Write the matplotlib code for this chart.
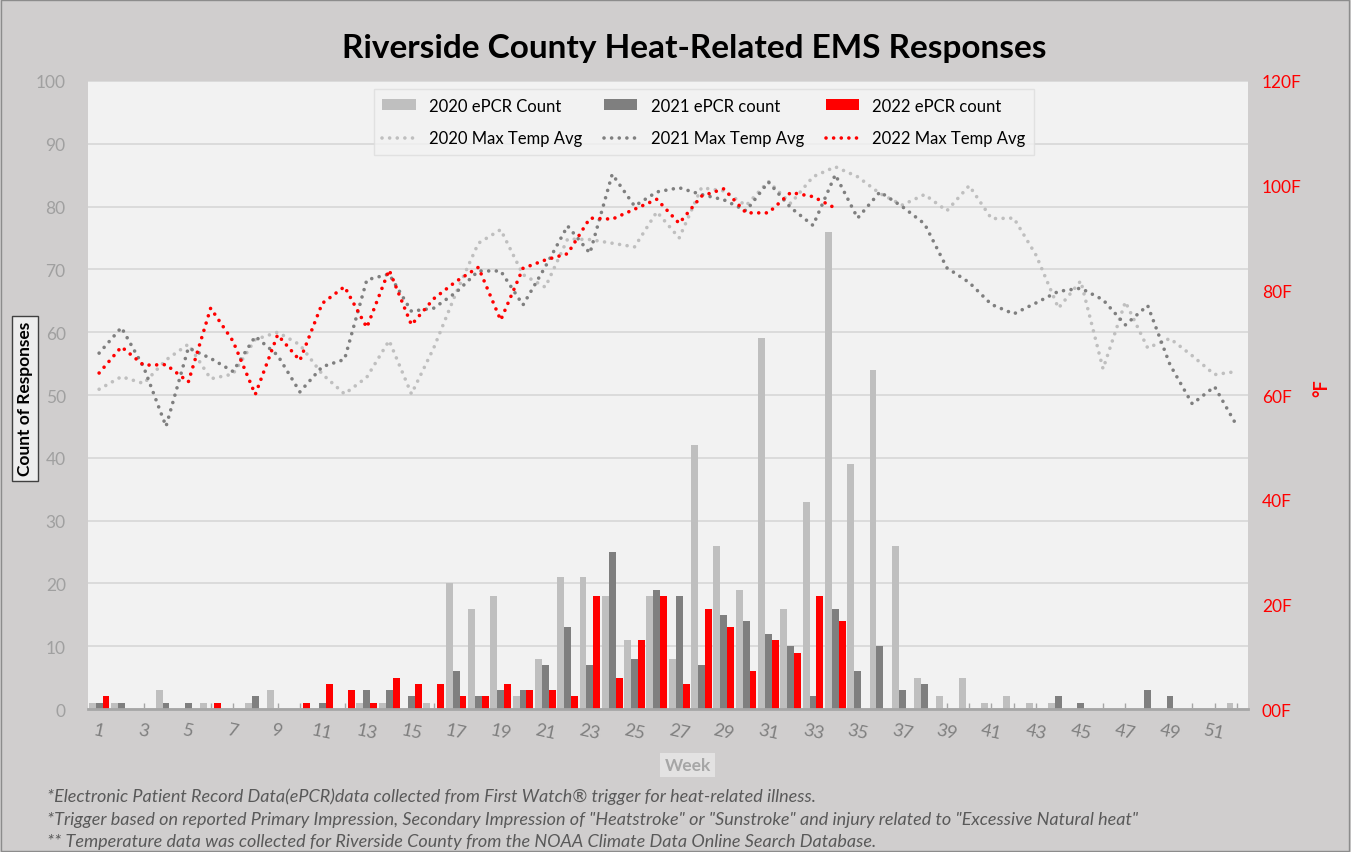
import matplotlib

matplotlib.use("Agg")
import matplotlib.pyplot as plt
import numpy as np
from matplotlib.patches import Rectangle

plt.rcParams["font.family"] = ["Lato", "DejaVu Sans"]

weeks = np.arange(1, 53)
tick_labels = [str(w) if w % 2 else "" for w in weeks]

# weekly ePCR counts
count_2020 = [1, 1, 0, 3, 0, 1, 0, 1, 3, 0, 0, 0, 1, 1, 0, 1, 20, 16, 18, 2,
              8, 21, 21, 18, 11, 18, 8, 42, 26, 19, 59, 16, 33, 76, 39, 54, 26, 5, 2, 5,
              1, 2, 1, 1, 0, 0, 0, 0, 0, 0, 0, 1]
count_2021 = [1, 1, 0, 1, 1, 0, 0, 2, 0, 0, 1, 0, 3, 3, 2, 0, 6, 2, 3, 3,
              7, 13, 7, 25, 8, 19, 18, 7, 15, 14, 12, 10, 2, 16, 6, 10, 3, 4, 0, 0,
              0, 0, 0, 2, 1, 0, 0, 3, 2, 0, 0, 0]
count_2022 = [2, 0, 0, 0, 0, 1, 0, 0, 0, 1, 4, 3, 1, 5, 4, 4, 2, 2, 4, 3,
              3, 2, 18, 5, 11, 18, 4, 16, 13, 6, 11, 9, 18, 14]
count_2022 = count_2022 + [0] * (52 - len(count_2022))

# weekly max temperature averages (deg F)
temp_2020 = [61.1, 63.5, 62.2, 66.7, 69.7, 63.1, 64.0, 70.6, 72.0, 69.6,
             64.0, 60.2, 63.4, 70.4, 60.2, 69.0, 79.5, 89.0, 91.6, 83.0,
             80.6, 89.8, 89.7, 89.0, 88.3, 95.0, 90.0, 99.6, 99.0, 96.2,
             100.8, 96.6, 101.7, 103.6, 101.7, 98.5, 96.3, 98.3, 95.2, 100.0,
             93.7, 93.8, 86.7, 76.6, 81.8, 65.0, 77.8, 69.0, 70.8, 67.5,
             63.9, 64.5]
temp_2021 = [68.0, 72.9, 65.3, 54.0, 69.0, 67.0, 64.5, 71.2, 67.6, 60.6,
             65.4, 66.8, 82.0, 83.1, 76.0, 76.6, 79.6, 83.7, 83.7, 77.2,
             84.5, 92.3, 87.1, 102.2, 96.1, 98.8, 99.6, 98.3, 97.3, 95.2,
             100.7, 95.8, 92.4, 102.1, 93.8, 98.8, 96.0, 92.7, 84.3, 81.5,
             77.3, 75.5, 77.6, 79.8, 80.4, 78.2, 73.4, 77.1, 65.8, 58.3,
             61.6, 54.1]
temp_2022 = [64.2, 69.2, 65.7, 65.8, 62.5, 76.6, 70.3, 60.1, 71.5, 66.6,
             77.5, 80.7, 72.9, 83.9, 73.4, 78.4, 81.7, 84.4, 74.3, 84.2,
             85.8, 87.0, 93.8, 93.6, 95.5, 97.4, 92.8, 98.0, 99.4, 94.8,
             94.8, 98.7, 97.9, 95.7]

OUTER = "#D0CECE"
PLOT_BG = "#F2F2F2"
C20, C21, C22 = "#BFBFBF", "#7F7F7F", "#FF0000"

fig = plt.figure(figsize=(13.51, 8.53), dpi=100, facecolor=OUTER)
ax = fig.add_axes([0.0651, 0.1676, 0.8587, 0.7363])
ax.set_facecolor(PLOT_BG)

w = 0.31
ax.bar(weeks - w, count_2020, w, color=C20, label="2020 ePCR Count", zorder=2)
ax.bar(weeks, count_2021, w, color=C21, label="2021 ePCR count", zorder=2)
ax.bar(weeks + w, count_2022, w, color=C22, label="2022 ePCR count", zorder=2)

ax.set_xlim(0.5, 52.5)
ax.set_ylim(0, 100)
ax.set_yticks(range(0, 101, 10))
ax.grid(axis="y", color="#D9D9D9", lw=1.3, zorder=0)
ax.set_axisbelow(True)
ax.set_xticks(weeks)
ax.set_xticklabels(tick_labels, rotation=-12)
ax.tick_params(axis="x", direction="in", length=4, width=1, color="#A6A6A6",
               labelsize=13, labelcolor="#7F7F7F", pad=9)
ax.tick_params(axis="y", length=0, labelsize=12.5, labelcolor="#A0A0A0", pad=16)
for side in ("top", "left", "right"):
    ax.spines[side].set_visible(False)
ax.spines["bottom"].set_color("#A6A6A6")
ax.spines["bottom"].set_linewidth(2)

ax2 = ax.twinx()
dot = dict(linestyle=(0, (0.01, 2.1)), dash_capstyle="round", lw=2.6)
ax2.plot(weeks, temp_2020, color=C20, label="2020 Max Temp Avg", **dot)
ax2.plot(weeks, temp_2021, color=C21, label="2021 Max Temp Avg", **dot)
ax2.plot(weeks[:len(temp_2022)], temp_2022, color=C22, label="2022 Max Temp Avg", **dot)
ax2.set_ylim(0, 120)
ax2.set_yticks(range(0, 121, 20))
ax2.set_yticklabels([f"{v:02d}F" for v in range(0, 121, 20)])
ax2.tick_params(axis="y", length=0, labelsize=12.5, labelcolor=C22, pad=10)
for side in ax2.spines:
    ax2.spines[side].set_visible(False)

h1, l1 = ax.get_legend_handles_labels()
h2, l2 = ax2.get_legend_handles_labels()
order_h = [h1[0], h2[0], h1[1], h2[1], h1[2], h2[2]]
order_l = [l1[0], l2[0], l1[1], l2[1], l1[2], l2[2]]
leg = ax2.legend(order_h, order_l, ncol=3, loc="upper center",
                 bbox_to_anchor=(0.531, 1.0), fontsize=12, frameon=True,
                 fancybox=False, facecolor=PLOT_BG, edgecolor="#DDDDDD",
                 handlelength=2.0, handleheight=0.6, columnspacing=1.3,
                 labelspacing=1.0, borderpad=0.5)
leg.get_frame().set_linewidth(1)

fig.text(0.514, 0.943, "Riverside County Heat-Related EMS Responses",
         ha="center", va="center", fontsize=24, fontweight="bold", color="black")

fig.text(0.0185, 0.532, "Count of Responses", rotation=90, ha="center", va="center",
         fontsize=12.5, fontweight="bold", color="black",
         bbox=dict(boxstyle="square,pad=0.3", facecolor="#EDEDED", edgecolor="#404040", lw=1))
fig.text(0.9786, 0.545, "°F", rotation=90, ha="center", va="center",
         fontsize=13, fontweight="bold", color=C22)
fig.text(0.509, 0.102, "Week", ha="center", va="center", fontsize=12.5,
         fontweight="bold", color="#A6A6A6",
         bbox=dict(boxstyle="square,pad=0.25", facecolor="#E3E2E2", edgecolor="none"))

notes = [
    "*Electronic Patient Record Data(ePCR)data collected from First Watch\u00ae trigger for heat-related illness.",
    '*Trigger based on reported Primary Impression, Secondary Impression of "Heatstroke" or "Sunstroke" and injury related to "Excessive Natural heat"',
    "** Temperature data was collected for Riverside County from the NOAA Climate Data Online Search Database.",
]
for y, note in zip([0.0657, 0.0387, 0.0129], notes):
    fig.text(0.035, y, note, ha="left", va="center", fontsize=13,
             style="italic", color="#595959")

fig.patches.append(Rectangle((0.0005, 0.001), 0.998, 0.998, transform=fig.transFigure,
                             fill=False, edgecolor="#8C8C8C", lw=1))

fig.savefig("out.png", dpi=100, facecolor=OUTER)
